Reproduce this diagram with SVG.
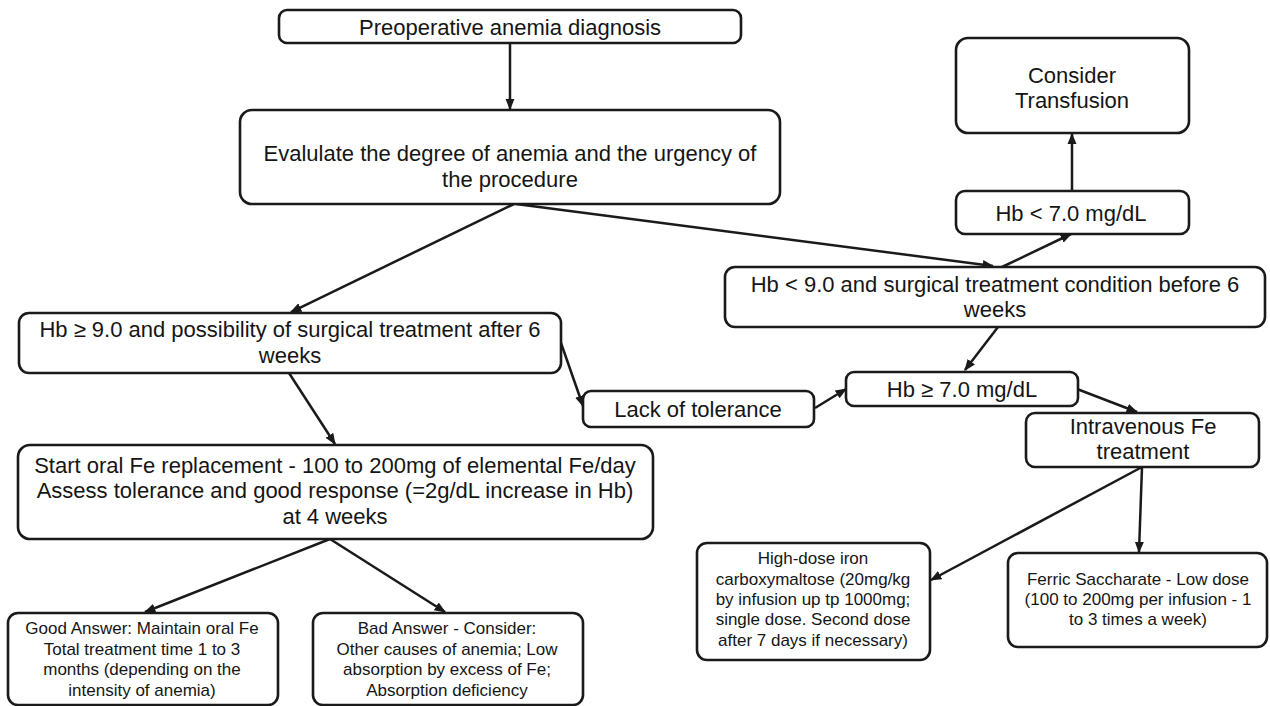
<svg xmlns="http://www.w3.org/2000/svg" width="1270" height="706" viewBox="0 0 1270 706">
<style>
rect{fill:#fff;stroke:#1a1a1a;stroke-width:2.6}
text{font-family:"Liberation Sans",Arial,sans-serif;fill:#151515;text-anchor:middle}
.l{font-size:22px}
.s{font-size:17px}
#connectors line{stroke:#1a1a1a;stroke-width:2.5;marker-end:url(#ah)}
</style>
<defs>
<marker id="ah" viewBox="0 0 10 10" refX="9" refY="5" markerWidth="4.6" markerHeight="4.6" orient="auto" markerUnits="strokeWidth"><path d="M0,1 L10,5 L0,9 z" fill="#1a1a1a"/></marker>
</defs>
<g id="connectors">
<line x1="510" y1="43" x2="510" y2="109"/>
<line x1="514" y1="204" x2="291" y2="312"/>
<line x1="516" y1="204" x2="993" y2="266"/>
<line x1="1072" y1="191" x2="1072" y2="134"/>
<line x1="1002" y1="267" x2="1071" y2="234"/>
<line x1="998" y1="327" x2="965" y2="370"/>
<line x1="289" y1="373" x2="335" y2="444"/>
<line x1="561" y1="343" x2="583" y2="406"/>
<line x1="815" y1="408" x2="846" y2="389"/>
<line x1="1077" y1="389" x2="1137" y2="412"/>
<line x1="1142" y1="467" x2="931" y2="580"/>
<line x1="1142" y1="467" x2="1139" y2="552"/>
<line x1="330" y1="539" x2="145" y2="612"/>
<line x1="330" y1="539" x2="445" y2="612"/>
</g>
<g id="n1"><rect x="279" y="10" width="462" height="33" rx="8"/><text class="l" x="510" y="35">Preoperative anemia diagnosis</text></g>
<g id="n2"><rect x="240" y="110" width="540" height="94" rx="12"/><text class="l" x="510" y="161">Evalulate the degree of anemia and the urgency of</text><text class="l" x="510" y="187">the procedure</text></g>
<g id="n3"><rect x="956" y="38" width="233" height="95" rx="12"/><text class="l" x="1072" y="83">Consider</text><text class="l" x="1072" y="108">Transfusion</text></g>
<g id="n4"><rect x="956" y="191" width="233" height="43" rx="9"/><text class="l" x="1071" y="221">Hb &lt; 7.0 mg/dL</text></g>
<g id="n5"><rect x="725" y="267" width="540" height="60" rx="10"/><text class="l" x="995" y="292">Hb &lt; 9.0 and surgical treatment condition before 6</text><text class="l" x="995" y="317">weeks</text></g>
<g id="n6"><rect x="19" y="313" width="542" height="60" rx="10"/><text class="l" x="290" y="337">Hb ≥ 9.0 and possibility of surgical treatment after 6</text><text class="l" x="290" y="363">weeks</text></g>
<g id="n7"><rect x="583" y="391" width="231" height="36" rx="8"/><text class="l" x="698" y="417">Lack of tolerance</text></g>
<g id="n8"><rect x="846" y="372" width="232" height="34" rx="8"/><text class="l" x="962" y="397">Hb ≥ 7.0 mg/dL</text></g>
<g id="n9"><rect x="1026" y="413" width="233" height="54" rx="9"/><text class="l" x="1143" y="434">Intravenous Fe</text><text class="l" x="1143" y="459">treatment</text></g>
<g id="n10"><rect x="18" y="445" width="635" height="94" rx="12"/><text class="l" x="335" y="473">Start oral Fe replacement - 100 to 200mg of elemental Fe/day</text><text class="l" x="335" y="498">Assess tolerance and good response (=2g/dL increase in Hb)</text><text class="l" x="335" y="524">at 4 weeks</text></g>
<g id="n11"><rect x="8" y="613" width="270" height="92" rx="10"/><text class="s" x="142" y="634">Good Answer: Maintain oral Fe</text><text class="s" x="142" y="655">Total treatment time 1 to 3</text><text class="s" x="142" y="675">months (depending on the</text><text class="s" x="142" y="696">intensity of anemia)</text></g>
<g id="n12"><rect x="313" y="613" width="270" height="92" rx="10"/><text class="s" x="447" y="634">Bad Answer - Consider:</text><text class="s" x="447" y="655">Other causes of anemia; Low</text><text class="s" x="447" y="675">absorption by excess of Fe;</text><text class="s" x="447" y="696">Absorption deficiency</text></g>
<g id="n13"><rect x="697" y="543" width="233" height="117" rx="10"/><text class="s" x="813" y="564">High-dose iron</text><text class="s" x="813" y="585">carboxymaltose (20mg/kg</text><text class="s" x="813" y="605">by infusion up tp 1000mg;</text><text class="s" x="813" y="625">single dose. Second dose</text><text class="s" x="813" y="646">after 7 days if necessary)</text></g>
<g id="n14"><rect x="1008" y="553" width="259" height="94" rx="10"/><text class="s" x="1138" y="585">Ferric Saccharate - Low dose</text><text class="s" x="1138" y="605">(100 to 200mg per infusion - 1</text><text class="s" x="1138" y="625">to 3 times a week)</text></g>
</svg>
